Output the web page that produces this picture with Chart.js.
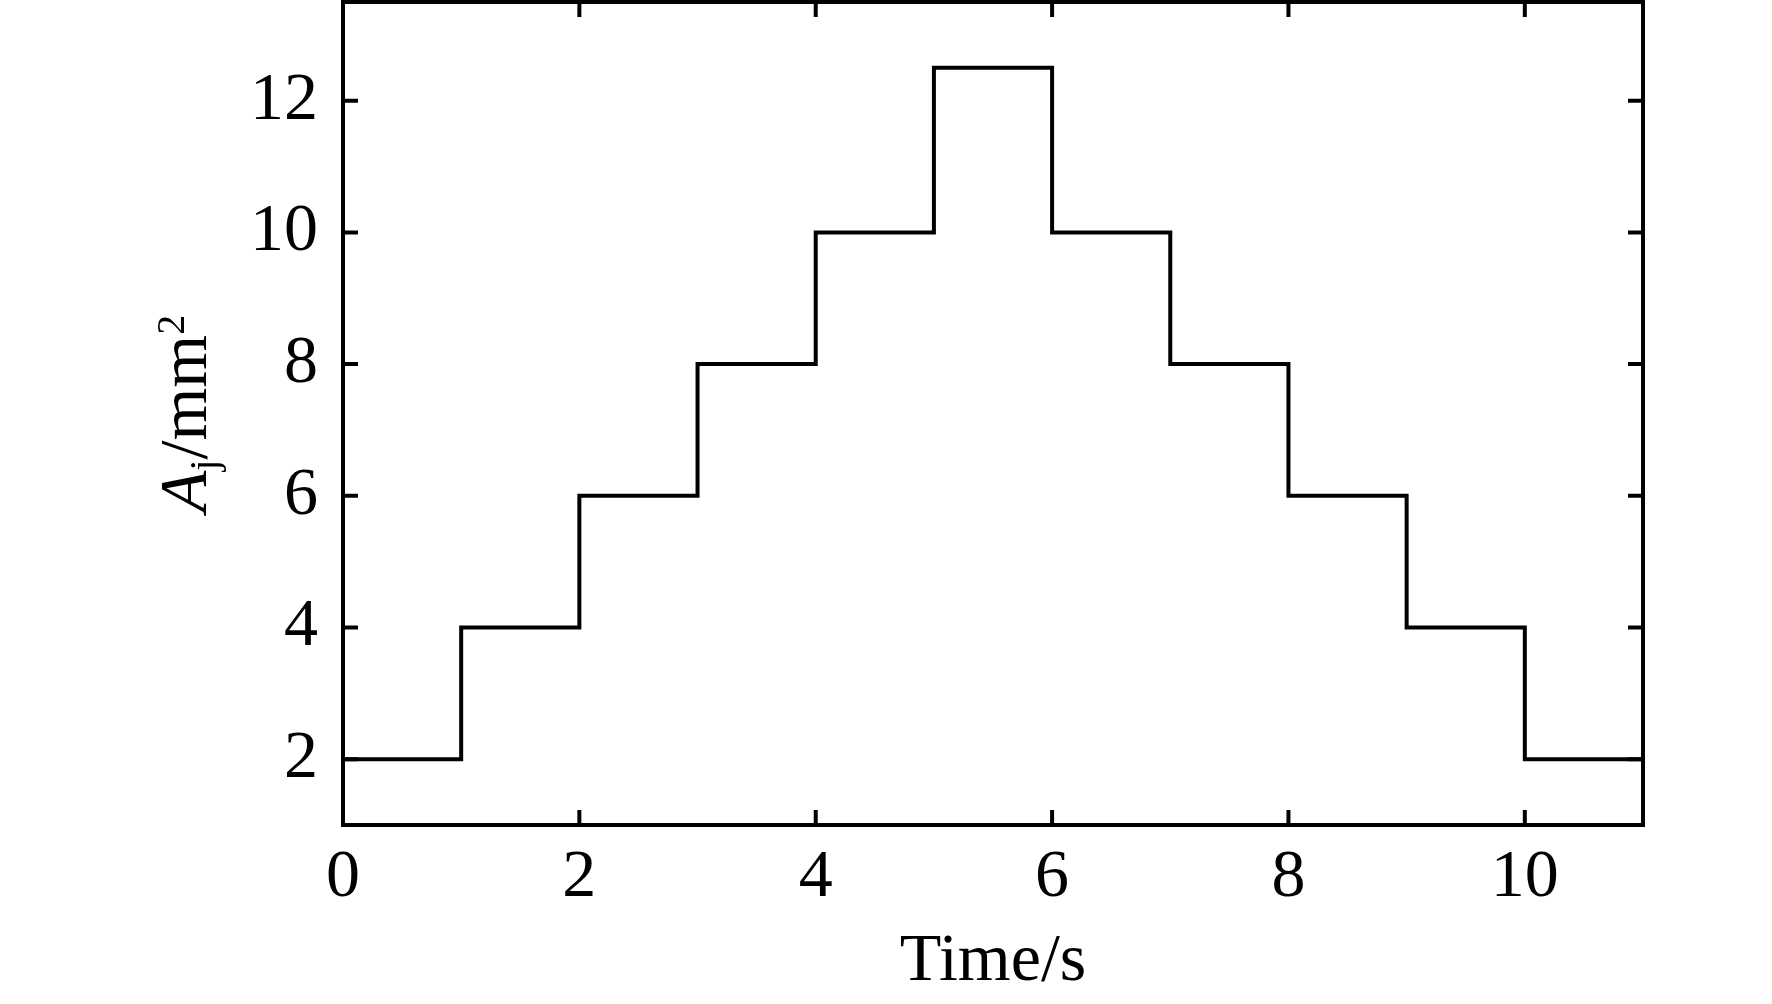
<!DOCTYPE html>
<html>
<head>
<meta charset="utf-8">
<script src="https://cdn.jsdelivr.net/npm/chart.js@4.4.0/dist/chart.umd.min.js"></script>
<style>
  html, body { margin: 0; padding: 0; background: #fff; }
  canvas { display: block; }
</style>
</head>
<body>
<canvas id="stepChart" width="1772" height="1004"></canvas>
<script>
// step profile: value holds from each time to the next one
var timePoints = [0, 1, 2, 3, 4, 5, 6, 7, 8, 9, 10, 11];
var areaValues = [2, 4, 6, 8, 10, 12.5, 10, 8, 6, 4, 2, 2];
var xTicks = [0, 2, 4, 6, 8, 10];
var yTicks = [2, 4, 6, 8, 10, 12];

var serif = "'Liberation Serif', 'Times New Roman', serif";

var points = [];
for (var i in timePoints) {
	points.push({ x: timePoints[i], y: areaValues[i] });
}

// box round the plot with inner ticks on all four sides
var framePlugin = {
	id: 'frame',
	afterDatasetsDraw: function(chart) {
		var ctx = chart.ctx;
		var a = chart.chartArea;
		var xs = chart.scales.x;
		var ys = chart.scales.y;
		var tl = 15;
		ctx.save();
		ctx.strokeStyle = '#000';
		ctx.lineWidth = 4;
		ctx.lineCap = 'butt';
		ctx.lineJoin = 'miter';
		ctx.strokeRect(a.left, a.top, a.right - a.left, a.bottom - a.top);
		ctx.beginPath();
		xTicks.forEach(function(v) {
			var px = xs.getPixelForValue(v);
			ctx.moveTo(px, a.bottom); ctx.lineTo(px, a.bottom - tl);
			ctx.moveTo(px, a.top); ctx.lineTo(px, a.top + tl);
		});
		yTicks.forEach(function(v) {
			var py = ys.getPixelForValue(v);
			ctx.moveTo(a.left, py); ctx.lineTo(a.left + tl, py);
			ctx.moveTo(a.right, py); ctx.lineTo(a.right - tl, py);
		});
		ctx.stroke();
		ctx.restore();
	}
};

// y title: italic A, subscript j, /mm, superscript 2
var yTitlePlugin = {
	id: 'yTitle',
	afterDraw: function(chart) {
		var ctx = chart.ctx;
		var a = chart.chartArea;
		var parts = [
			{ t: 'A', font: 'italic 68px ' + serif, dy: 0 },
			{ t: 'j', font: '40px ' + serif, dy: 11 },
			{ t: '/mm', font: '68px ' + serif, dy: 0 },
			{ t: '2', font: '40px ' + serif, dy: -22 }
		];
		ctx.save();
		var total = 0;
		parts.forEach(function(p) {
			ctx.font = p.font;
			p.w = ctx.measureText(p.t).width;
			total += p.w;
		});
		var cy = (a.top + a.bottom) / 2;
		ctx.translate(206, cy);
		ctx.rotate(-Math.PI / 2);
		ctx.fillStyle = '#000';
		ctx.textBaseline = 'alphabetic';
		ctx.textAlign = 'left';
		var x = -total / 2;
		parts.forEach(function(p) {
			ctx.font = p.font;
			ctx.fillText(p.t, x, p.dy);
			x += p.w;
		});
		ctx.restore();
	}
};

var ctx = document.getElementById('stepChart');

var stepChart = new Chart(ctx, {
	type: 'line',
	data: {
		datasets: [
			{
				label: 'A_j',
				data: points,
				stepped: 'before',
				borderColor: '#000',
				borderWidth: 4,
				borderJoinStyle: 'miter',
				borderCapStyle: 'butt',
				pointRadius: 0,
				fill: false,
				tension: 0
			}
		]
	},
	options: {
		responsive: false,
		animation: false,
		layout: { padding: { left: 0, right: 129, top: 2, bottom: 0 } },
		plugins: {
			legend: { display: false },
			tooltip: { enabled: false }
		},
		scales: {
			x: {
				type: 'linear',
				min: 0,
				max: 11,
				grid: { display: false, drawTicks: false },
				border: { display: false },
				ticks: {
					color: '#000',
					font: { family: serif, size: 68 },
					padding: 12,
					maxRotation: 0,
					autoSkip: false
				},
				title: {
					display: true,
					text: 'Time/s',
					color: '#000',
					font: { family: serif, size: 68 },
					padding: { top: 0, bottom: 1 }
				},
				afterBuildTicks: function(scale) {
					scale.ticks = xTicks.map(function(v) { return { value: v }; });
				},
				afterFit: function(scale) {
					scale.height = 179;
					scale.paddingLeft = 0;
					scale.paddingRight = 0;
				}
			},
			y: {
				min: 1,
				max: 13.5,
				grid: { display: false, drawTicks: false },
				border: { display: false },
				ticks: {
					color: '#000',
					font: { family: serif, size: 68 },
					padding: 25
				},
				afterBuildTicks: function(scale) {
					scale.ticks = yTicks.map(function(v) { return { value: v }; });
				},
				afterFit: function(scale) {
					scale.width = 343;
					scale.paddingTop = 0;
					scale.paddingBottom = 0;
				}
			}
		}
	},
	plugins: [framePlugin, yTitlePlugin]
});
</script>
</body>
</html>
